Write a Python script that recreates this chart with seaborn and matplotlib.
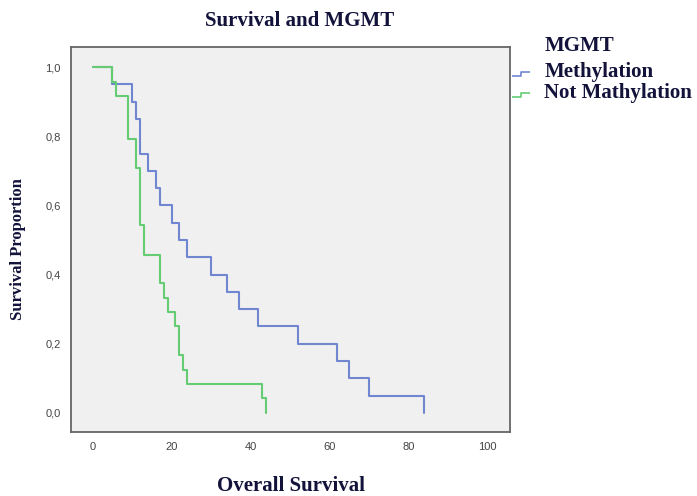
import numpy as np
import pandas as pd
import matplotlib
matplotlib.use("Agg")
import matplotlib.pyplot as plt
import seaborn as sns
from matplotlib.lines import Line2D
from matplotlib.path import Path

# ---- data ----
meth_time = [0, 5, 10, 11, 12, 14, 16, 17, 20, 22, 24, 30, 34, 37, 42, 52, 62, 65, 70, 84]
meth_surv = [1.0, 0.95, 0.90, 0.85, 0.75, 0.70, 0.65, 0.60, 0.55, 0.50, 0.45, 0.40,
             0.35, 0.30, 0.25, 0.20, 0.15, 0.10, 0.05, 0.0]
notm_time = [0, 5, 6, 9, 11, 12, 13, 17, 18, 19, 21, 22, 23, 24, 43, 44]
notm_surv = [1.0, 0.958, 0.917, 0.792, 0.708, 0.542, 0.458, 0.375, 0.333, 0.292,
             0.25, 0.167, 0.125, 0.083, 0.042, 0.0]
groups = ["Methylation", "Not Mathylation"]
x_ticks = [0, 20, 40, 60, 80, 100]
y_ticks = [0.0, 0.2, 0.4, 0.6, 0.8, 1.0]
y_ticklabels = ["0,0", "0,2", "0,4", "0,6", "0,8", "1,0"]

df = pd.concat([
    pd.DataFrame({"time": meth_time, "surv": meth_surv, "group": groups[0]}),
    pd.DataFrame({"time": notm_time, "surv": notm_surv, "group": groups[1]}),
], ignore_index=True)

blue = "#7186d0"
green = "#66cc74"
txt = "#12123a"
serif = ["Liberation Serif", "DejaVu Serif"]

sns.set_style("white")
fig = plt.figure(figsize=(6.97, 4.96), dpi=100)
ax = fig.add_axes([71 / 697, 1 - 432 / 496, (510 - 71) / 697, (432 - 47) / 496])
ax.set_facecolor("#f0f0f0")

for g, c in zip(groups, [blue, green]):
    sub = df[df["group"] == g]
    sns.lineplot(data=sub, x="time", y="surv", ax=ax, color=c, lw=1.5,
                 drawstyle="steps-post", estimator=None, sort=False, legend=False)

ax.set_xlim(-5.45, 105.7)
ax.set_ylim(-0.055, 1.058)
ax.set_xticks(x_ticks)
ax.set_xticklabels([str(v) for v in x_ticks])
ax.set_yticks(y_ticks)
ax.set_yticklabels(y_ticklabels)
ax.tick_params(axis="both", direction="out", length=5, width=1, color="#555555",
               labelsize=8, labelcolor="#444444", pad=2.5)
for lab in ax.get_xticklabels() + ax.get_yticklabels():
    lab.set_fontfamily(["Liberation Sans", "DejaVu Sans"])
for sp in ax.spines.values():
    sp.set_color("#666666")
    sp.set_linewidth(1.3)
ax.set_xlabel("")
ax.set_ylabel("")

fig.text(300 / 697, 1 - 21 / 496, "Survival and MGMT", ha="center", va="center",
         fontsize=15, fontweight="bold", family=serif, color=txt)
fig.text(291 / 697, 1 - 486 / 496, "Overall Survival", ha="center", va="center",
         fontsize=15, fontweight="bold", family=serif, color=txt)
fig.text(18 / 697, 1 - 249 / 496, "Survival Proportion", ha="center", va="center",
         rotation=90, fontsize=12, fontweight="bold", family=serif, color=txt)

# legend title placed on its own, left-aligned with the labels
fig.text(545 / 697, 1 - 46 / 496, "MGMT", ha="left", va="center",
         fontsize=15, fontweight="bold", family=serif, color=txt)

step = Path([(-1, -0.7), (0, -0.7), (0, -0.2), (1, -0.2)],
            [Path.MOVETO, Path.LINETO, Path.LINETO, Path.LINETO])
handles = [Line2D([], [], linestyle="none", marker=step, markersize=13,
                  markerfacecolor="none", markeredgecolor=c, markeredgewidth=1.2)
           for c in [blue, green]]
leg = fig.legend(handles, groups, loc="upper left",
                 bbox_to_anchor=(507 / 697, 1 - 62 / 496), frameon=False,
                 prop={"family": serif, "weight": "bold", "size": 15},
                 handlelength=1.3, handletextpad=0.5, labelspacing=0.05,
                 borderaxespad=0, borderpad=0)
for t in leg.get_texts():
    t.set_color(txt)

fig.savefig("out.png", dpi=100)
